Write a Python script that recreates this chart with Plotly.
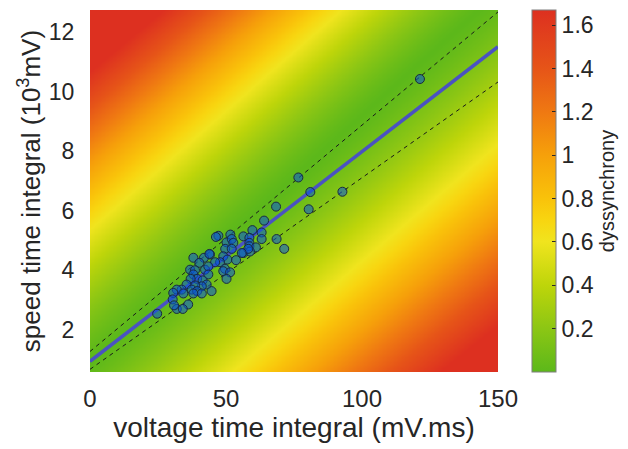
import numpy as np
import plotly.graph_objects as go

# --- data ---
vti = [121.3, 76.6, 81.0, 92.8, 68.4, 80.4, 64.0, 59.7, 63.1, 56.4, 58.6, 63.1, 68.6,
       58.6, 58.6, 61.0, 71.4, 56.4, 58.8, 47.2, 46.3, 51.6, 50.2, 52.1, 52.7, 49.7,
       52.1, 58.2, 55.8, 44.1, 41.9, 49.0, 50.5, 47.8, 46.0, 53.7, 49.6, 49.0, 51.5,
       42.3, 43.5, 50.2, 43.9, 38.0, 40.2, 36.8, 38.6, 38.0, 43.5, 39.4, 41.4, 37.0,
       42.9, 41.1, 38.6, 35.5, 37.4, 39.4, 41.1, 44.7, 33.7, 31.9, 30.6, 34.3, 38.0,
       30.4, 36.1, 31.9, 34.1, 30.9, 24.7]
sti = [10.42, 7.11, 6.62, 6.63, 6.13, 6.04, 5.66, 5.34, 5.26, 5.13, 5.08, 5.04, 5.04,
       4.91, 4.80, 4.76, 4.71, 4.57, 4.62, 5.15, 5.11, 5.19, 4.93, 5.04, 4.91, 4.71,
       4.71, 4.71, 4.57, 4.52, 4.41, 4.46, 4.35, 4.26, 4.26, 4.33, 4.04, 3.96, 3.92,
       4.01, 4.12, 3.70, 4.54, 4.41, 4.24, 4.01, 3.99, 3.85, 3.85, 3.70, 3.65, 3.70,
       3.51, 3.45, 3.48, 3.51, 3.34, 3.29, 3.21, 3.29, 3.34, 3.34, 3.23, 3.21, 3.21,
       3.01, 2.84, 2.69, 2.69, 2.81, 2.53]

fit_intercept = 0.93
fit_slope = 0.0705
upper_intercept, upper_slope = 1.26, 0.0761
lower_intercept, lower_slope = 0.66, 0.0644

x_range = [0, 150]
y_range = [0.57, 12.74]
x_ticks = [0, 50, 100, 150]
y_ticks = [2, 4, 6, 8, 10, 12]
cbar_ticks = [0.2, 0.4, 0.6, 0.8, 1.0, 1.2, 1.4, 1.6]
cbar_labels = ["0.2", "0.4", "0.6", "0.8", "1", "1.2", "1.4", "1.6"]
z_max = 1.67

# dyssynchrony model field (normalised axes; band width differs above / below)
band_q0, band_qslope = 0.03, 1.02
band_amp, band_pow = 2.23, 1.3
band_widen_upper, band_widen_lower = -0.10, 0.15

gx = np.linspace(x_range[0], x_range[1], 300)
gy = np.linspace(y_range[0], y_range[1], 300)
GX, GY = np.meshgrid(gx, gy)
P = (GX - x_range[0]) / (x_range[1] - x_range[0])
Q = (GY - y_range[0]) / (y_range[1] - y_range[0])
D = Q - (band_q0 + band_qslope * P)
W = np.where(D > 0, 1 + band_widen_upper * P, 1 + band_widen_lower * P)
Z = band_amp * (np.abs(D) / W) ** band_pow

colorscale = [
    [0.00, "#5CB81A"],
    [0.12, "#8CC614"],
    [0.24, "#BED50A"],
    [0.36, "#F0E41E"],
    [0.42, "#F8D510"],
    [0.48, "#F9C20A"],
    [0.60, "#F6A00A"],
    [0.72, "#EF7812"],
    [0.84, "#E65418"],
    [1.00, "#DD3020"],
]

FONT = "Liberation Sans, Arial, Helvetica, sans-serif"
TXT = "#262626"

fig = go.Figure()
fig.add_trace(go.Heatmap(
    x=gx, y=gy, z=Z, zmin=0, zmax=z_max, colorscale=colorscale, zsmooth="best",
    hoverinfo="skip",
    colorbar=dict(
        x=1.083, xanchor="left", xpad=0, y=0.5, yanchor="middle", ypad=0,
        len=1.0, lenmode="fraction",
        thickness=24, outlinewidth=1, outlinecolor="#7f7f7f",
        tickvals=cbar_ticks, ticktext=cbar_labels, ticks="inside", ticklen=4,
        tickcolor="#262626", tickfont=dict(family=FONT, size=23, color=TXT),
        title=dict(text="dyssynchrony", side="right", font=dict(family=FONT, size=20, color=TXT)),
    ),
))

xl = np.array(x_range, dtype=float)
fig.add_trace(go.Scatter(x=xl, y=upper_intercept + upper_slope * xl, mode="lines",
                         line=dict(color="#1a1a1a", width=1, dash="4px,4px"), hoverinfo="skip"))
fig.add_trace(go.Scatter(x=xl, y=lower_intercept + lower_slope * xl, mode="lines",
                         line=dict(color="#1a1a1a", width=1, dash="4px,4px"), hoverinfo="skip"))
fig.add_trace(go.Scatter(x=xl, y=fit_intercept + fit_slope * xl, mode="lines",
                         line=dict(color="#4A52C2", width=3.5), hoverinfo="skip"))
fig.add_trace(go.Scatter(x=vti, y=sti, mode="markers",
                         marker=dict(size=9, color="rgba(10,85,215,0.55)",
                                     line=dict(color="#1a2a40", width=1))))

# page has an 8px body margin, so the figure is sized to fit the 628x449 window
fig.update_layout(
    width=620, height=441, showlegend=False,
    margin=dict(l=82, r=130, t=2, b=77, autoexpand=False),
    paper_bgcolor="white", plot_bgcolor="white",
    font=dict(family=FONT, color=TXT),
)
fig.update_xaxes(range=x_range, tickvals=x_ticks, showgrid=False, zeroline=False,
                 automargin=False,
                 ticks="outside", ticklen=5, tickcolor="rgba(0,0,0,0)",
                 tickfont=dict(family=FONT, size=24, color=TXT),
                 title=dict(text="voltage time integral (mV.ms)", standoff=6,
                            font=dict(family=FONT, size=28, color=TXT)))
fig.update_yaxes(range=y_range, tickvals=y_ticks, showgrid=False, zeroline=False,
                 automargin=False,
                 ticks="outside", ticklen=10, tickcolor="rgba(0,0,0,0)",
                 tickfont=dict(family=FONT, size=23, color=TXT),
                 title=dict(text="speed time integral (10<sup>3</sup>mV)", standoff=0,
                            font=dict(family=FONT, size=26, color=TXT)))

fig.write_html("out.html")
